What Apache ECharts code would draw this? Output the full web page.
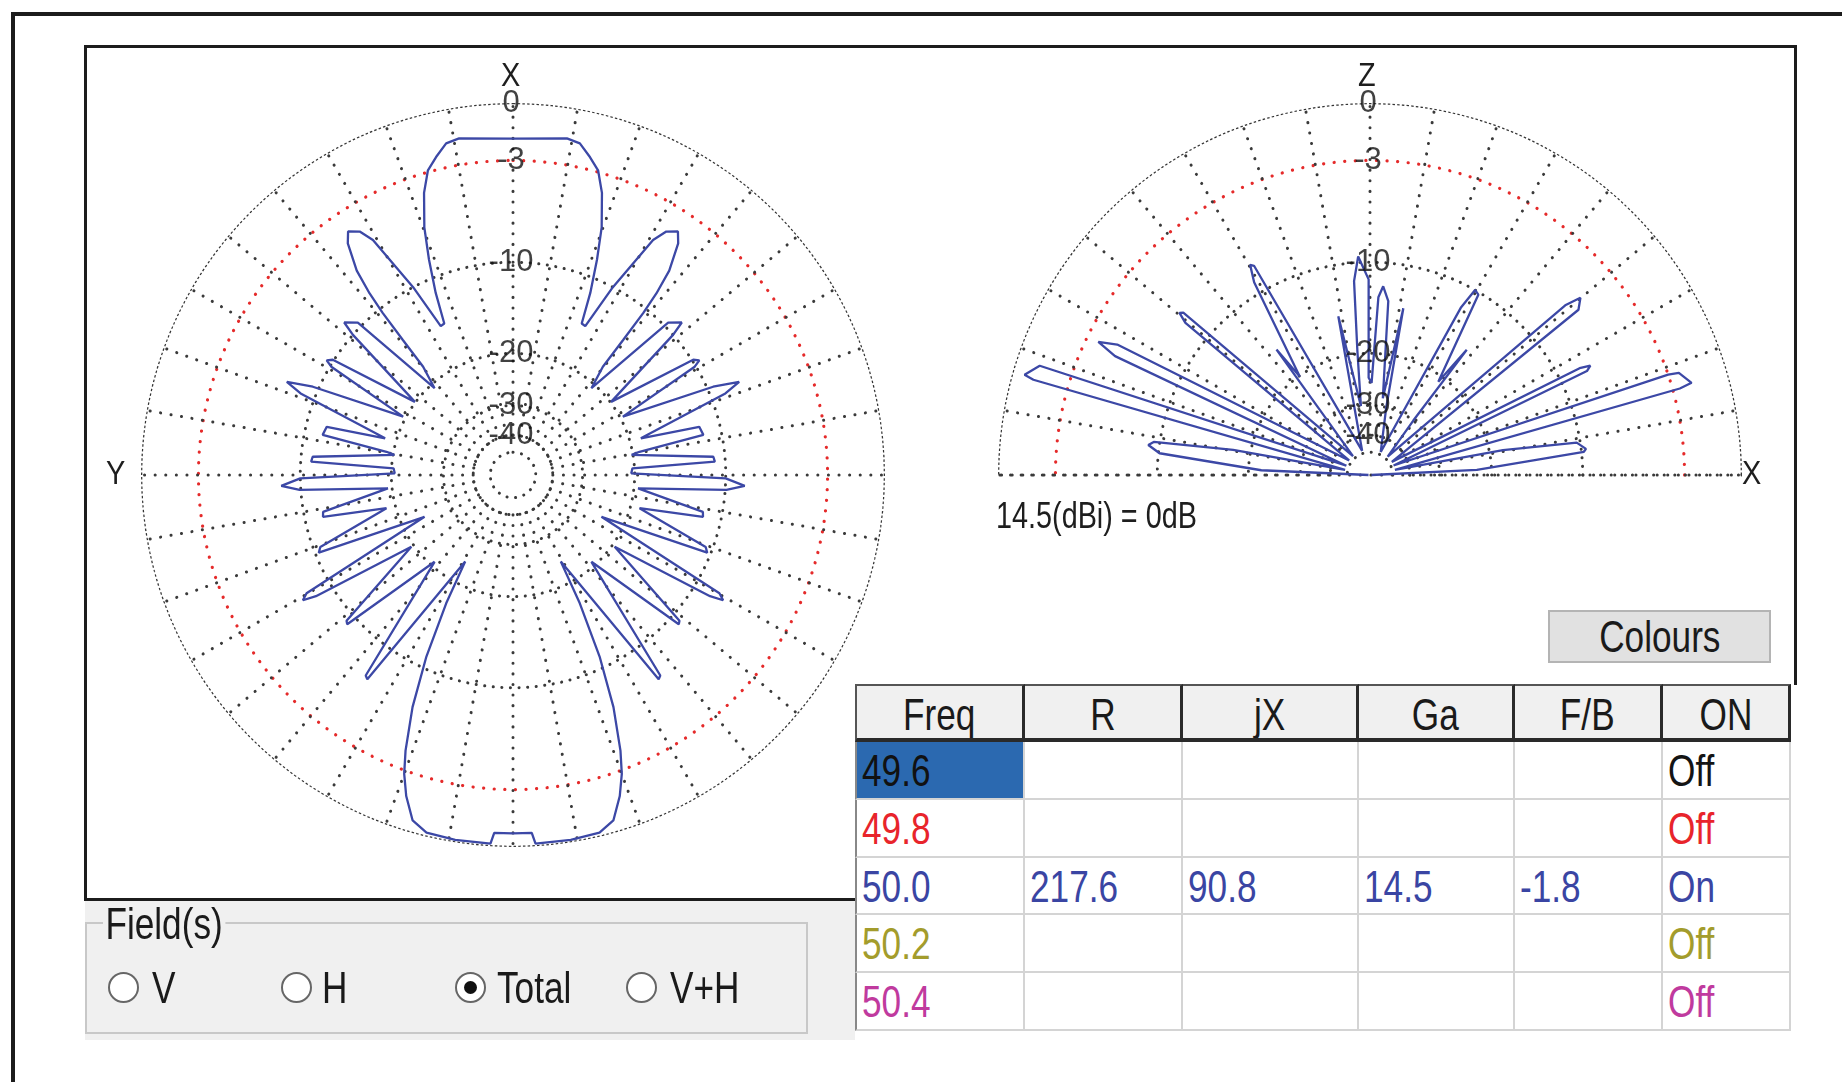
<!DOCTYPE html>
<html>
<head>
<meta charset="utf-8">
<script src="https://cdn.jsdelivr.net/npm/echarts@6/dist/echarts.min.js"></script>
<style>
  html, body { margin: 0; padding: 0; width: 1842px; height: 1082px; overflow: hidden; background: #fff;
    font-family: "Liberation Sans", Arial, sans-serif; }
  .ln { position: absolute; background: #1c1c1c; }
  #shade { position: absolute; left: 85px; top: 900px; width: 770px; height: 140px; background: #f0f0f0; }
  #panel { position: absolute; left: 85px; top: 46px; width: 1710px; height: 853px; background: #fff; }
  #chart { position: absolute; left: 0; top: 0; width: 1842px; height: 1082px; }
  .txt { position: absolute; white-space: nowrap; color: #1a1a1a; font-size: 44px; }
  .nar { display: inline-block; transform: scaleX(0.8); transform-origin: 0 50%; }
  .nar.mid { transform-origin: 50% 50%; }
  #colours { position: absolute; left: 1548px; top: 610px; width: 219px; height: 49px; background: #e1e1e1;
    border: 2px solid #b4b4b4; font-size: 44px; line-height: 49px; text-align: center; color: #1a1a1a; }
  #grid { position: absolute; left: 855px; top: 684px; width: 936px; height: 348px; background: #fff; }
  .cell { position: absolute; box-sizing: border-box; font-size: 44px; overflow: hidden; white-space: nowrap; }
  #fields { position: absolute; left: 85px; top: 922px; width: 719px; height: 108px; background: #f0f0f0;
    border: 2px solid #c8c8c8; }
  .radio { position: absolute; box-sizing: border-box; width: 31px; height: 31px; border-radius: 50%; border: 2px solid #666; background: #fff; }
  .radio.on::after { content: ""; position: absolute; left: 7px; top: 7px; width: 13px; height: 13px; border-radius: 50%; background: #111; }
</style>
</head>
<body>
<div id="shade"></div>
<div id="panel"></div>
<div id="chart"></div>
<div id="colours"><span class="nar mid">Colours</span></div>
<div id="grid"></div>
<div id="fields"></div>
<script>
// Relative gain (dB) of the horizontal cut, right half (0 = X, clockwise); the left half mirrors it
const azimuthAngles = [0, 9.1, 11.4, 13.6, 15.6, 17.5, 19.7, 21.3, 23.0, 24.4, 25.9,
  28.0, 30.8, 32.2, 34.1, 35.5, 37.4, 38.3, 38.8, 39.2, 39.7, 42.1,
  45.5, 47.9, 48.8, 53.3,
  57.4, 58.4, 59.2, 62.0,
  66.2, 67.6, 69.0, 74.0,
  75.5, 78.1, 79.6, 80.4,
  84.8, 86.2, 86.8, 89.2,
  90.9, 92.7, 94.0, 96.1,
  101.0, 102.4, 104.7,
  110.5, 111.8, 115.3,
  119.8, 120.8, 121.6, 125.2,
  131.2, 132.0, 137.9,
  143.7, 144.5, 151.1,
  152.5, 154.5, 156.6, 158.7, 160.0, 161.6, 163.8, 166.4, 171.0, 176.5, 177.0, 180];
const azimuthGain = [-1.8, -1.56, -1.7, -2.3, -2.9, -4.1, -6.2, -8.5, -11.3, -14.4, -14.5,
  -10.0, -5.5, -4.6, -4.2, -4.8, -6.6, -8.5, -10.4, -13.6, -17.4, -20.7,
  -9.6, -8.8, -10.0, -19.9,
  -9.9, -9.5, -10.1, -19.6,
  -9.5, -7.5, -8.8, -18.4,
  -11.8, -11.6, -19.0, -20.2,
  -11.0, -10.9, -20.3, -20.5,
  -10.0, -8.45, -9.9, -19.4,
  -11.7, -11.6, -18.7,
  -10.6, -10.3, -23.9,
  -8.0, -7.5, -8.5, -19.6,
  -9.3, -9.15, -20.7,
  -7.2, -7.05, -23.7,
  -16.9, -11.0, -6.9, -4.1, -2.8, -1.7, -0.6, -0.2, -0.12, -0.13, -0.67, -0.67];

// Relative gain (dB) of the vertical cut, elevation 0 (towards X) to 180
const elevationAngles = [0, 2.7, 6.2, 6.9, 8.9, 10.6, 11.5,
  15.6, 16.0, 18.3, 18.6, 22,
  25.6, 26.4, 27.0, 31,
  38.4, 40.1, 41.0, 46,
  51.5, 52.3, 53.8, 59.0, 60.4, 61.5, 65,
  76.5, 78.7, 80.5, 84.0, 86.0, 87.3, 89.0, 90.8, 90.4, 93.1, 94.7, 95.8, 97.5, 101.3, 103, 108,
  119.0, 119.7, 121.0, 125.5, 126.7, 128.0, 132,
  139.0, 139.6, 140.5, 145,
  152.7, 153.9, 155.0, 158.5,
  161.7, 163.8, 164.2, 168.5,
  169.6, 171.3, 172.3, 174.1, 177.5, 180];
const elevationGain = [-99, -22.3, -9.8, -9.6, -10.3, -18.1, -48,
  -2.6, -1.9, -2.4, -3.0, -48,
  -7.8, -7.4, -8.2, -48,
  -6.0, -5.4, -6.5, -48,
  -30, -15.3, -20.9, -10.2, -10.0, -12, -48,
  -30, -14.0, -28, -13.5, -12.1, -13.2, -25, -24, -11.5, -9.5, -11.6, -19.5, -30, -14.9, -30, -48,
  -7.9, -7.7, -9.0, -20.1, -15.5, -30, -48,
  -7.3, -7.1, -7.9, -48,
  -4.8, -3.7, -5.0, -48,
  -1.2, -0.6, -1.1, -48,
  -17.6, -9.5, -9.1, -10.1, -22.0, -99];

// Grid rings (dB) and their labels
const gridRings = [-10, -20, -30, -40, -50];
const halfPowerRing = -3;
const scaleLabels = ['0', '-3', '-10', '-20', '-30', '-40'];
const scaleLevels = [0, -3, -10, -20, -30, -40];
const referenceText = '14.5(dBi) = 0dB';

// Frequency table
const tableHeader = ['Freq', 'R', 'jX', 'Ga', 'F/B', 'ON'];
const freqs = ['49.6', '49.8', '50.0', '50.2', '50.4'];
const resistance = ['', '', '217.6', '', ''];
const reactance = ['', '', '90.8', '', ''];
const gainDbi = ['', '', '14.5', '', ''];
const frontBack = ['', '', '-1.8', '', ''];
const onState = ['Off', 'Off', 'On', 'Off', 'Off'];
const rowColors = ['#141414', '#e8242b', '#3a45a3', '#a39c2c', '#c03a9e'];

const fieldOptions = ['V', 'H', 'Total', 'V+H'];
const fieldSelected = 'Total';

// ---------- page furniture ----------
function addLine(x, y, w, h) {
  const d = document.createElement('div');
  d.className = 'ln';
  Object.assign(d.style, { left: x + 'px', top: y + 'px', width: w + 'px', height: h + 'px' });
  document.body.insertBefore(d, document.getElementById('chart'));
}
addLine(11, 12, 1831, 4);   // outer window
addLine(11, 12, 4, 1070);
addLine(84, 45, 1713, 3);   // plot panel
addLine(84, 45, 3, 856);
addLine(1794, 45, 3, 640);
addLine(84, 898, 772, 3);

function narrowSpan(text, centred) {
  const s = document.createElement('span');
  s.className = 'nar' + (centred ? ' mid' : '');
  s.textContent = text;
  return s;
}

// ---------- table ----------
const grid = document.getElementById('grid');
const colX = [0, 170, 328, 504, 660, 808, 936];
const rowY = [0, 58, 116, 174, 231, 289, 347];
function cell(x, y, w, h, text, css, centred) {
  const c = document.createElement('div');
  c.className = 'cell';
  Object.assign(c.style, { left: x + 'px', top: y + 'px', width: w + 'px', height: h + 'px', lineHeight: h + 'px' }, css || {});
  if (text) c.appendChild(narrowSpan(text, centred));
  grid.appendChild(c);
  return c;
}
for (let i = 0; i < 6; i++) {
  cell(colX[i], 0, colX[i + 1] - colX[i], rowY[1], tableHeader[i], {
    background: '#f0f0f0', textAlign: 'center', color: '#1a1a1a',
    borderRight: '3px solid #2a2a2a', borderBottom: '4px solid #2a2a2a', borderTop: '2px solid #555',
    borderLeft: i === 0 ? '2px solid #555' : 'none'
  }, true);
}
const columns = [freqs, resistance, reactance, gainDbi, frontBack, onState];
for (let r = 0; r < 5; r++) {
  for (let c = 0; c < 6; c++) {
    const css = {
      paddingLeft: '5px', color: rowColors[r],
      borderRight: '2px solid #d4d4d4', borderBottom: '2px solid #d4d4d4',
      borderLeft: c === 0 ? '2px solid #888' : 'none'
    };
    if (r === 0 && c === 0) { css.background = '#2b69b0'; css.color = '#111'; }
    cell(colX[c], rowY[r + 1], colX[c + 1] - colX[c], rowY[r + 2] - rowY[r + 1], columns[c][r], css, false);
  }
}

// ---------- field selector ----------
const fields = document.getElementById('fields');
const legend = document.createElement('div');
legend.className = 'txt';
Object.assign(legend.style, { left: '16px', top: '-22px', lineHeight: '44px' });
const legendText = narrowSpan('Field(s)');
legendText.style.background = '#f0f0f0';
legendText.style.padding = '0 3px';
legend.appendChild(legendText);
fields.appendChild(legend);
const radioX = [21, 194, 368, 539];
const labelX = [65, 235, 410, 583];
fieldOptions.forEach((name, i) => {
  const r = document.createElement('div');
  r.className = 'radio' + (name === fieldSelected ? ' on' : '');
  Object.assign(r.style, { left: radioX[i] + 'px', top: '48px' });
  fields.appendChild(r);
  const t = document.createElement('div');
  t.className = 'txt';
  Object.assign(t.style, { left: labelX[i] + 'px', top: '40px', lineHeight: '48px' });
  t.appendChild(narrowSpan(name));
  fields.appendChild(t);
});

// ---------- polar plots ----------
const R0 = 372;
const toR = db => Math.pow(10, db / 41.2);
const FONT = '"Liberation Sans", Arial, sans-serif';

function ring(level, a0, a1) {
  const pts = [];
  for (let a = a0; a <= a1; a += 1) pts.push([toR(level), a]);
  return pts;
}
function spokes(a0, a1) {
  const pts = [];
  for (let a = a0; a <= a1; a += 10) {
    pts.push([toR(-40), a], [1, a], ['-', '-']);
  }
  return pts;
}
const dotGrey = { color: '#3a3a3a', width: 3, type: [0.1, 10.5], cap: 'round' };
const dotGreyRing = { color: '#3a3a3a', width: 3, type: [0.1, 8.5], cap: 'round' };
const dotRed = { color: '#e52a2a', width: 3.2, type: [0.1, 10.5], cap: 'round' };
const outerDash = { color: '#333', width: 2.6, type: [2.5, 2.2], cap: 'butt' };

function gridSeries(pi, a0, a1) {
  const base = { type: 'line', coordinateSystem: 'polar', polarIndex: pi, symbol: 'none', silent: true, clip: false, z: 1 };
  const out = [];
  gridRings.forEach(l => out.push(Object.assign({}, base, { data: ring(l, a0, a1), lineStyle: dotGreyRing })));
  out.push(Object.assign({}, base, { data: ring(halfPowerRing, a0, a1), lineStyle: dotRed }));
  out.push(Object.assign({}, base, { data: ring(0, a0, a1), lineStyle: outerDash }));
  out.push(Object.assign({}, base, { data: spokes(a0, a1), lineStyle: dotGrey }));
  return out;
}
function labelSeries(pi, angle) {
  return {
    type: 'scatter', coordinateSystem: 'polar', polarIndex: pi, symbolSize: 1, z: 5, silent: true,
    itemStyle: { color: 'rgba(0,0,0,0)' },
    data: scaleLevels.map((l, i) => ({ name: scaleLabels[i], value: [toR(l), angle] })),
    label: {
      show: true, position: 'inside', formatter: p => p.name,
      fontFamily: FONT, fontSize: 31, color: '#111', offset: [-2, 0]
    }
  };
}

// full horizontal pattern: right half then mirrored left half
const azData = azimuthAngles.map((a, i) => [toR(azimuthGain[i]), a]);
for (let i = azimuthAngles.length - 2; i >= 0; i--) azData.push([toR(azimuthGain[i]), 360 - azimuthAngles[i]]);
const elData = elevationAngles.map((a, i) => [toR(elevationGain[i]), a]);

const hiddenAxis = { axisLine: { show: false }, axisTick: { show: false }, axisLabel: { show: false }, splitLine: { show: false } };
const patternStyle = { color: '#3c48a6', width: 2.3 };

function axisName(text, x, y, size, sx) {
  return { type: 'text', x: x, y: y, scaleX: sx, style: { text: text, font: size + 'px ' + FONT, fill: '#1e1e1e', align: 'left', verticalAlign: 'middle' } };
}

const chart = echarts.init(document.getElementById('chart'), null, { renderer: 'canvas' });
chart.setOption({
  animation: false,
  polar: [
    { center: [513, 475], radius: [0, R0] },
    { center: [1370, 475], radius: [0, R0] }
  ],
  angleAxis: [
    Object.assign({ polarIndex: 0, type: 'value', min: 0, max: 360, startAngle: 90, clockwise: true }, hiddenAxis),
    Object.assign({ polarIndex: 1, type: 'value', min: 0, max: 360, startAngle: 0, clockwise: false }, hiddenAxis)
  ],
  radiusAxis: [
    Object.assign({ polarIndex: 0, type: 'value', min: 0, max: 1 }, hiddenAxis),
    Object.assign({ polarIndex: 1, type: 'value', min: 0, max: 1 }, hiddenAxis)
  ],
  series: [
    ...gridSeries(0, 0, 360),
    ...gridSeries(1, 0, 180),
    { type: 'line', coordinateSystem: 'polar', polarIndex: 1, symbol: 'none', silent: true, z: 1,
      data: [[1, 0], [1, 180]], lineStyle: dotGrey },
    { type: 'line', name: 'Azimuth', coordinateSystem: 'polar', polarIndex: 0, symbol: 'none', z: 3,
      data: azData, lineStyle: patternStyle },
    { type: 'line', name: 'Elevation', coordinateSystem: 'polar', polarIndex: 1, symbol: 'none', z: 3,
      data: elData, lineStyle: patternStyle },
    labelSeries(0, 0),
    labelSeries(1, 90)
  ],
  graphic: [
    axisName('X', 501, 77, 34, 0.85),
    axisName('Y', 106, 475, 34, 0.85),
    axisName('Z', 1358, 77, 34, 0.85),
    axisName('X', 1742, 475, 34, 0.85),
    axisName(referenceText, 996, 518, 36, 0.8)
  ]
});
</script>
</body>
</html>
